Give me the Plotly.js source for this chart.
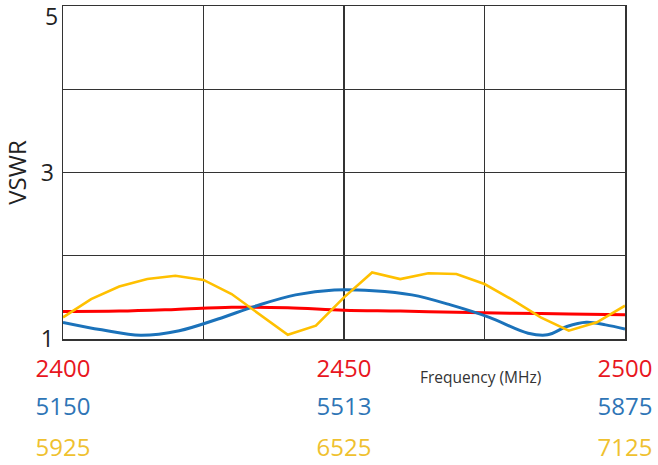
<!DOCTYPE html>
<html>
<head>
<meta charset="utf-8">
<script src="https://cdn.plot.ly/plotly-3.0.1.min.js"></script>
<style>html,body{margin:0;padding:0;background:#fff;}#chart{width:658px;height:465px;}</style>
</head>
<body>
<div id="chart"></div>
<script>
// ---- data ----
const redFreq = [2400, 2410, 2420, 2430, 2440, 2450, 2460, 2470, 2480, 2490, 2500];
const redVswr = [1.33, 1.335, 1.355, 1.38, 1.375, 1.345, 1.335, 1.32, 1.31, 1.30, 1.29];

const blueFreq = [5150, 5200, 5250, 5300, 5350, 5400, 5450, 5500, 5550, 5600, 5650, 5700, 5750, 5775, 5800, 5825, 5850, 5875];
const blueVswr = [1.20, 1.11, 1.045, 1.10, 1.24, 1.40, 1.53, 1.59, 1.58, 1.53, 1.41, 1.26, 1.07, 1.05, 1.15, 1.20, 1.17, 1.12];

const yellowFreq = [5925, 5985, 6045, 6105, 6165, 6225, 6285, 6345, 6405, 6465, 6525, 6585, 6645, 6705, 6765, 6825, 6885, 6945, 7005, 7065, 7125];
const yellowVswr = [1.26, 1.48, 1.63, 1.72, 1.76, 1.71, 1.54, 1.29, 1.05, 1.16, 1.50, 1.80, 1.72, 1.79, 1.78, 1.66, 1.47, 1.26, 1.10, 1.20, 1.40];

const redTickVals = [2400, 2425, 2450, 2475, 2500];
const redTickText = ['2400', '', '2450', '', '2500'];
const blueTickVals = [5150, 5512.5, 5875];
const blueTickText = ['5150', '5513', '5875'];
const yellowTickVals = [5925, 6525, 7125];
const yellowTickText = ['5925', '6525', '7125'];
const yTickVals = [1, 2, 3, 4, 5];
const yTickText = ['1', '', '3', '', ''];
const yTopLabel = '5';

// ---- styles ----
const FONT = 'Open Sans, Liberation Sans, sans-serif';
const RED = '#FF0000', BLUE = '#1B72BA', YELLOW = '#FFC000';
const RED_T = '#E8161E', BLUE_T = '#2E75B6', YELLOW_T = '#EFC12F';
const GRID = '#333333';

const traces = [
  {x: redFreq, y: redVswr, xaxis: 'x', yaxis: 'y', mode: 'lines',
   line: {color: RED, width: 3, shape: 'spline', smoothing: 1}, hoverinfo: 'skip'},
  {x: blueFreq, y: blueVswr, xaxis: 'x2', yaxis: 'y', mode: 'lines',
   line: {color: BLUE, width: 3, shape: 'spline', smoothing: 1}, hoverinfo: 'skip'},
  {x: yellowFreq, y: yellowVswr, xaxis: 'x3', yaxis: 'y', mode: 'lines',
   line: {color: YELLOW, width: 2.6}, hoverinfo: 'skip'}
];

const axBase = {ticks: '', zeroline: false, fixedrange: true, ticklabelstandoff: 7};

const layout = {
  width: 658, height: 465,
  margin: {l: 63, r: 33, t: 6, b: 5},
  paper_bgcolor: '#ffffff', plot_bgcolor: '#ffffff',
  showlegend: false,
  font: {family: FONT},
  xaxis: Object.assign({}, axBase, {
    range: [2400, 2500], tickmode: 'array', tickvals: redTickVals, ticktext: redTickText,
    tickfont: {size: 24, color: RED_T, family: FONT}, ticklabelstandoff: 8,
    showgrid: true, gridcolor: GRID, gridwidth: 1.2,
    showline: true, mirror: true, linecolor: GRID, linewidth: 1.5,
    anchor: 'y'
  }),
  xaxis2: Object.assign({}, axBase, {
    range: [5150, 5875], tickmode: 'array', tickvals: blueTickVals, ticktext: blueTickText,
    tickfont: {size: 24, color: BLUE_T, family: FONT},
    showgrid: false, showline: false,
    overlaying: 'x', anchor: 'free', position: 0.1705, side: 'bottom'
  }),
  xaxis3: Object.assign({}, axBase, {
    range: [5925, 7125], tickmode: 'array', tickvals: yellowTickVals, ticktext: yellowTickText,
    tickfont: {size: 24, color: YELLOW_T, family: FONT},
    showgrid: false, showline: false,
    overlaying: 'x', anchor: 'free', position: 0.0795, side: 'bottom'
  }),
  yaxis: {
    domain: [0.2665, 1], range: [1, 5], tickmode: 'array', tickvals: yTickVals, ticktext: yTickText,
    tickfont: {size: 23, color: '#222222', family: FONT},
    ticks: '', ticklabelstandoff: 3,
    showgrid: true, gridcolor: GRID, gridwidth: 1.2,
    showline: true, mirror: true, linecolor: GRID, linewidth: 1.5,
    zeroline: false, fixedrange: true,
    title: {text: 'VSWR', font: {size: 24, color: '#222222', family: FONT}, standoff: 14}
  },
  annotations: [
    {text: 'Frequency (MHz)', xref: 'paper', yref: 'paper', x: 0.742, y: 0.1828,
     xanchor: 'center', yanchor: 'middle', showarrow: false,
     font: {size: 15.5, color: '#333333', family: FONT}},
    {text: yTopLabel, xref: 'paper', yref: 'y', x: 0, y: 5, xshift: -3, yshift: 8,
     xanchor: 'right', yanchor: 'top', showarrow: false,
     font: {size: 23, color: '#222222', family: FONT}}
  ]
};

Plotly.newPlot('chart', traces, layout, {staticPlot: true, displayModeBar: false});
</script>
</body>
</html>
